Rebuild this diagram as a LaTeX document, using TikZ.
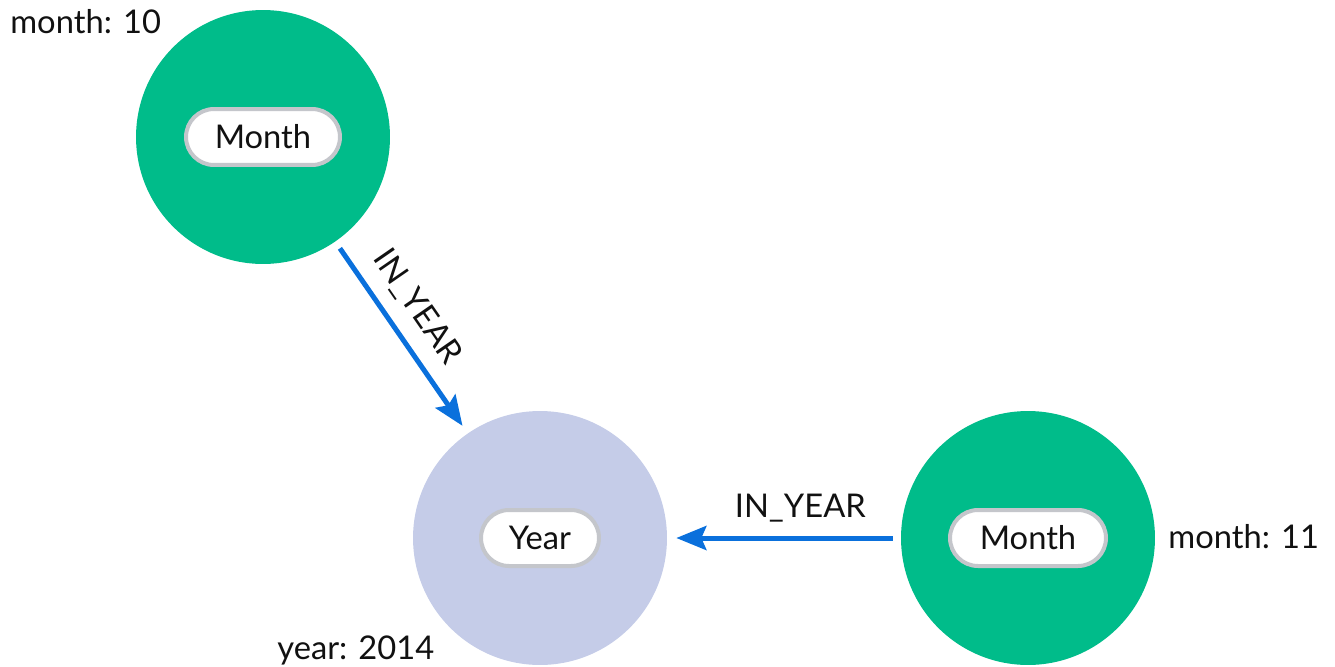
\documentclass[tikz,border=0pt]{standalone}
\usepackage{fontspec}
\setmainfont{Lato}
\usetikzlibrary{arrows.meta}
\definecolor{monthgreen}{RGB}{0,188,138}
\definecolor{yearlav}{RGB}{197,204,232}
\definecolor{relblue}{RGB}{10,112,220}
\definecolor{pillgray}{RGB}{196,198,203}
\definecolor{inkc}{RGB}{17,17,17}
\tikzset{
  graphnode/.style={circle, minimum size=5.08cm, inner sep=0pt, draw=none},
  monthnode/.style={graphnode, fill=monthgreen},
  yearnode/.style={graphnode, fill=yearlav},
  pill/.style={draw=pillgray, fill=white, line width=0.08cm, rounded corners=0.56cm,
    minimum height=1.12cm, inner xsep=0.5cm, inner ysep=0pt, text=inkc,
    font=\fontsize{18.6}{20}\selectfont},
  proptext/.style={inner sep=0pt, anchor=base west, text=inkc,
    font=\fontsize{18.6}{20}\selectfont},
  rel/.style={draw=relblue, line width=0.1cm,
    -{Stealth[length=0.6cm, width=0.48cm, inset=0.1cm]},
    shorten <=0.16cm, shorten >=0.18cm},
  rellabel/.style={sloped, above=0.27cm, inner sep=0pt, text=inkc,
    font=\fontsize{18.6}{20}\selectfont},
}
\begin{document}
\begin{tikzpicture}[x=0.02cm, y=-0.02cm]
  \useasboundingbox (0,0) rectangle (1335,666);
  % graph nodes
  \node[monthnode] (m10) at (263,137) {};
  \node[yearnode]  (y14) at (540,538) {};
  \node[monthnode] (m11) at (1028,538) {};
  % captions inside the nodes
  \node[pill, minimum width=3.08cm] (m10lab) at (m10.center) {Month};
  \node[pill, minimum width=2.36cm] (y14lab) at (y14.center) {Year};
  \node[pill, minimum width=3.12cm] (m11lab) at (m11.center) {Month};
  % properties
  \node[proptext] (p10) at (10,33) {month: 10};
  \node[proptext] (p11) at (1168,548) {month: 11};
  \node[proptext] (p14) at (277,659) {year: 2014};
  % relationships
  \draw[rel] (m10) -- node[rellabel, pos=0.43] (r1) {IN\_YEAR} (y14);
  \draw[rel] (m11) -- node[rellabel, pos=0.43] (r2) {IN\_YEAR} (y14);
\end{tikzpicture}
\end{document}
